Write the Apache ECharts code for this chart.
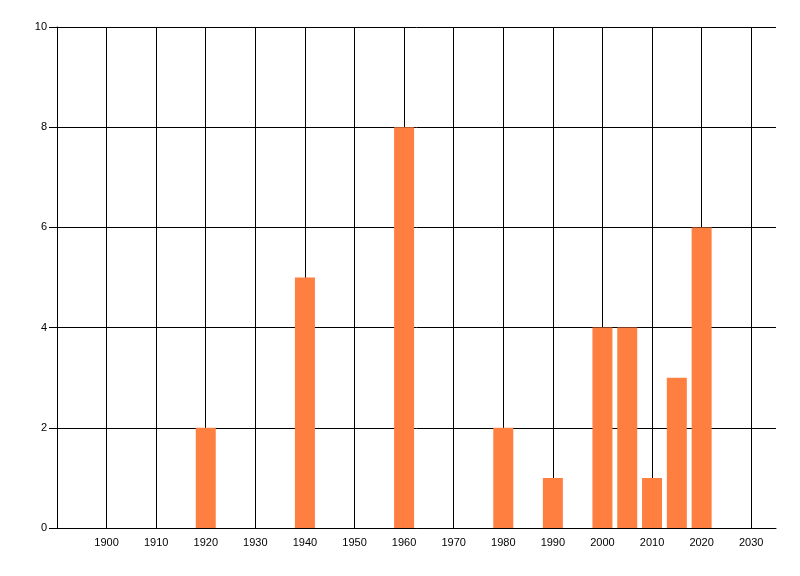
<!DOCTYPE html>
<html>
<head>
<meta charset="utf-8">
<script src="https://cdn.jsdelivr.net/npm/echarts@6/dist/echarts.min.js"></script>
<style>
html, body { margin: 0; padding: 0; background: #fff; }
#chart { width: 800px; height: 576px; }
</style>
</head>
<body>
<div id="chart"></div>
<script>
// years and counts
var years = [1920, 1940, 1960, 1980, 1990, 2000, 2005, 2010, 2015, 2020];
var counts = [2, 5, 8, 2, 1, 4, 4, 1, 3, 6];

var barData = [];
for (var i = 0; i < years.length; i++) {
    barData.push([years[i], counts[i]]);
}

var labelFont = { color: '#000', fontSize: 11, fontFamily: 'Liberation Sans' };

var myChart = echarts.init(document.getElementById('chart'));
var option = {
    animation: false,
    grid: [
        { left: 57, right: 24, top: 27, bottom: 48 },
        // second grid only carries the vertical lines, stops at 2030
        { left: 57, right: 24 + 5 * 723 / 145, top: 27, bottom: 48 }
    ],
    xAxis: [{
        type: 'value',
        gridIndex: 0,
        min: 1890,
        max: 2035,
        interval: 10,
        axisLine: { show: true, lineStyle: { color: '#000', width: 1 } },
        axisTick: { show: false },
        splitLine: { show: false },
        axisLabel: Object.assign({}, labelFont, {
            margin: 9,
            showMaxLabel: false,
            formatter: function (v) { return v === 1890 ? '' : String(v); }
        })
    }, {
        type: 'value',
        gridIndex: 1,
        min: 1890,
        max: 2030,
        interval: 10,
        axisLine: { show: false },
        axisTick: { show: false },
        axisLabel: { show: false },
        splitLine: { show: true, lineStyle: { color: '#000', width: 1 } }
    }],
    yAxis: [{
        type: 'value',
        gridIndex: 0,
        min: 0,
        max: 10,
        interval: 2,
        axisLine: { show: true, lineStyle: { color: '#000', width: 1 } },
        axisTick: { show: true, length: 8, lineStyle: { color: '#000', width: 1 } },
        splitLine: { show: true, lineStyle: { color: '#000', width: 1 } },
        axisLabel: Object.assign({}, labelFont, { margin: 10 })
    }, {
        type: 'value',
        gridIndex: 1,
        min: 0,
        max: 10,
        show: false,
        splitLine: { show: false }
    }],
    series: [{
        type: 'bar',
        xAxisIndex: 0,
        yAxisIndex: 0,
        data: barData,
        barWidth: 20,
        z: 3,
        itemStyle: { color: '#ff7f40' }
    }]
};
myChart.setOption(option);
</script>
</body>
</html>
